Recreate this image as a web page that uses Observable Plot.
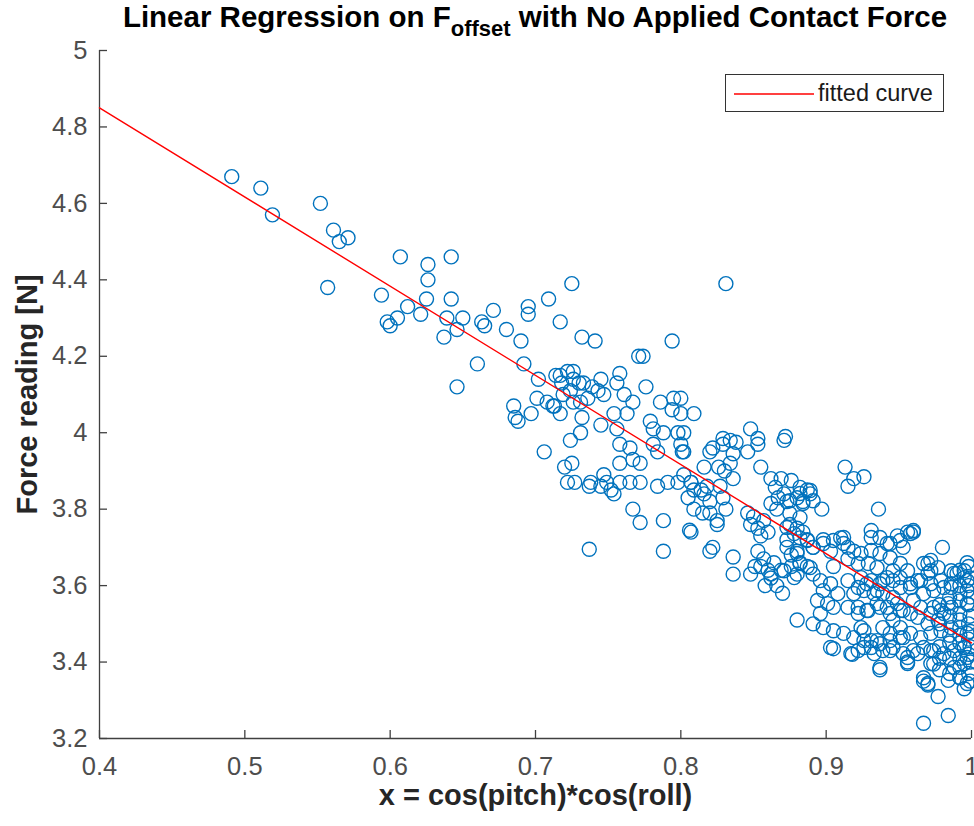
<!DOCTYPE html>
<html><head><meta charset="utf-8">
<script src="https://cdn.jsdelivr.net/npm/d3@7"></script>
<script src="https://cdn.jsdelivr.net/npm/@observablehq/plot@0.6"></script>
<style>
body{margin:0;background:#fff;}
#wrap{position:relative;width:974px;height:826px;overflow:hidden;font-family:"Liberation Sans",Arial,Helvetica,sans-serif;}
#title{position:absolute;top:1px;left:0;width:1070px;text-align:center;font-weight:bold;font-size:29.5px;line-height:32px;color:#000;white-space:nowrap;}
#title sub{font-size:22px;vertical-align:-9px;line-height:0;}
#legend{position:absolute;left:725px;top:74px;width:217px;height:36px;border:1.3px solid #333;background:#fff;}
#legend svg{position:absolute;left:0;top:0;}
#legend span{position:absolute;left:92px;top:4px;font-size:23.5px;line-height:28px;color:#1a1a1a;}
</style></head><body>
<div id="wrap"><div id="chart"></div>
<div id="title">Linear Regression on F<sub>offset</sub> with No Applied Contact Force</div>
<div id="legend"><svg width="92" height="36"><line x1="8" x2="88" y1="19" y2="19" stroke="#FF0000" stroke-width="1.4"/></svg><span>fitted curve</span></div>
</div>
<script>
const xDomain = [0.4, 1];
const yDomain = [3.2, 5];
const xTicks = [0.4, 0.5, 0.6, 0.7, 0.8, 0.9, 1];
const xTickLabels = ["0.4", "0.5", "0.6", "0.7", "0.8", "0.9", "1"];
const yTicks = [3.2, 3.4, 3.6, 3.8, 4, 4.2, 4.4, 4.6, 4.8, 5];
const yTickLabels = ["3.2", "3.4", "3.6", "3.8", "4", "4.2", "4.4", "4.6", "4.8", "5"];
const xLabel = "x = cos(pitch)*cos(roll)";
const yLabel = "Force reading [N]";
const fitX = [0.4, 1];
const fitY = [4.85, 3.45];
const points = [
[0.491,4.67],[0.511,4.64],[0.519,4.57],[0.552,4.60],[0.561,4.53],[0.565,4.50],[0.571,4.51],[0.557,4.38],
[0.594,4.36],[0.598,4.29],[0.600,4.28],[0.607,4.46],[0.605,4.30],[0.612,4.33],[0.621,4.31],[0.625,4.35],
[0.626,4.40],[0.626,4.44],[0.642,4.46],[0.642,4.35],[0.639,4.30],[0.650,4.30],[0.637,4.25],[0.646,4.27],
[0.646,4.12],[0.660,4.18],[0.663,4.29],[0.665,4.28],[0.671,4.32],[0.680,4.27],[0.690,4.24],[0.692,4.18],
[0.695,4.33],[0.695,4.31],[0.709,4.35],[0.725,4.39],[0.717,4.29],[0.732,4.25],[0.741,4.24],[0.685,4.07],
[0.686,4.04],[0.688,4.03],[0.697,4.05],[0.706,3.95],[0.701,4.09],[0.702,4.14],[0.831,4.39],[0.794,4.24],
[0.771,4.20],[0.774,4.20],
[0.714,4.15],[0.718,4.13],[0.722,4.16],[0.726,4.14],[0.730,4.13],[0.745,4.14],[0.758,4.155],[0.708,4.08],
[0.713,4.07],[0.717,4.05],[0.724,4.11],[0.731,4.08],[0.732,4.04],[0.739,4.12],[0.743,4.11],[0.747,4.10],
[0.756,4.13],[0.761,4.10],[0.767,4.08],[0.776,4.12],[0.786,4.08],[0.795,4.09],[0.794,4.06],[0.809,4.05],
[0.754,4.05],[0.763,4.05],[0.745,4.02],[0.731,4.00],[0.724,3.98],[0.756,4.01],[0.758,3.97],[0.765,3.96],
[0.779,4.03],[0.781,4.01],[0.788,4.00],[0.798,4.00],[0.800,3.97],[0.801,3.95],[0.781,3.97],[0.784,3.95],
[0.767,3.93],[0.772,3.92],[0.758,3.92],[0.720,3.91],[0.725,3.92],[0.722,3.87],[0.727,3.87],[0.738,3.87],
[0.747,3.89],[0.749,3.87],[0.752,3.85],[0.758,3.87],[0.765,3.87],[0.772,3.87],[0.784,3.86],[0.791,3.87],
[0.798,3.87],[0.807,3.87],[0.809,3.85],
[0.733,4.13],[0.717,4.15],[0.726,4.16],[0.719,4.10],[0.726,4.08],[0.712,4.07],[0.736,4.09],
[0.737,3.695],[0.767,3.80],[0.772,3.765],[0.788,3.77],[0.788,3.69],[0.806,3.745],[0.754,3.84],[0.745,3.86],[0.737,3.86],
[0.800,4.09],[0.800,4.05],[0.848,4.01],[0.853,3.985],[0.872,3.99],[0.829,3.985],[0.834,3.98],[0.838,3.975],
[0.822,3.96],[0.802,4.00],[0.802,3.95],
[0.820,3.95],[0.829,3.97],[0.836,3.945],[0.846,3.95],[0.853,3.97],[0.871,3.98],
[0.816,3.91],[0.826,3.91],[0.830,3.90],[0.834,3.92],[0.836,3.88],[0.827,3.86],[0.818,3.86],[0.816,3.84],
[0.820,3.82],[0.829,3.83],[0.831,3.80],[0.855,3.91],
[0.862,3.88],[0.869,3.88],[0.876,3.875],[0.882,3.857],[0.887,3.85],[0.865,3.857],[0.867,3.83],[0.871,3.84],
[0.862,3.815],[0.866,3.80],[0.873,3.82],[0.880,3.83],[0.884,3.82],[0.889,3.84],
[0.913,3.91],[0.919,3.88],[0.915,3.86],[0.926,3.885],[0.936,3.80],[0.897,3.80],
[0.807,3.87],[0.814,3.85],[0.805,3.83],[0.809,3.80],[0.802,3.89],[0.815,3.79],
[0.846,3.79],[0.850,3.78],[0.848,3.76],[0.853,3.75],[0.857,3.77],[0.860,3.74],[0.855,3.73],
[0.820,3.79],[0.825,3.77],[0.825,3.76],[0.807,3.74],[0.822,3.70],[0.836,3.675],[0.836,3.63],
[0.875,3.76],[0.880,3.75],[0.884,3.74],[0.882,3.725],[0.887,3.72],[0.873,3.72],
[0.891,3.70],[0.898,3.72],[0.903,3.69],[0.910,3.725],[0.912,3.71],[0.919,3.69],[0.915,3.67],[0.905,3.65],
[0.820,3.69],[0.853,3.69],[0.857,3.67],[0.855,3.65],[0.860,3.64],[0.864,3.66],[0.869,3.64],[0.862,3.63],
[0.851,3.65],[0.848,3.63],[0.876,3.68],[0.880,3.69],[0.882,3.66],[0.887,3.65],[0.891,3.63],[0.880,3.63],[0.876,3.65],
[0.942,3.71],[0.949,3.73],[0.956,3.74],[0.960,3.74],[0.953,3.70],
[0.980,3.700],[0.997,3.660],[0.970,3.658],[0.972,3.639],[0.970,3.632],[0.986,3.639],[0.990,3.632],[0.995,3.621],
[0.951,3.658],[0.956,3.639],[0.946,3.639],[0.942,3.621],[0.951,3.621],[0.963,3.613],[0.958,3.595],
[0.924,3.684],[0.931,3.692],[0.937,3.684],[0.944,3.673],[0.922,3.658],[0.929,3.658],[0.935,3.647],
[0.924,3.621],[0.931,3.613],[0.937,3.605],[0.926,3.587],[0.919,3.579],[0.933,3.579],[0.939,3.579],[0.946,3.569],
[0.922,3.543],[0.929,3.535],[0.935,3.553],[0.942,3.543],[0.949,3.553],[0.953,3.535],[0.960,3.561],[0.967,3.579],
[0.974,3.587],[0.981,3.595],[0.986,3.605],
[0.963,3.517],[0.970,3.501],[0.977,3.509],[0.981,3.527],[0.974,3.543],[0.984,3.553],
[0.946,3.509],[0.951,3.490],[0.939,3.490],[0.944,3.475],[0.953,3.464],
[0.924,3.490],[0.919,3.464],[0.926,3.456],[0.931,3.438],[0.922,3.430],[0.935,3.456],
[0.939,3.430],[0.946,3.438],[0.953,3.422],[0.960,3.430],[0.967,3.438],[0.974,3.430],[0.981,3.422],[0.988,3.430],[0.995,3.438],
[0.937,3.386],[0.956,3.396],[0.972,3.396],[0.988,3.386],[0.995,3.396],
[0.967,3.359],[0.970,3.344],[0.984,3.352],[0.992,3.359],[0.997,3.344],[0.917,3.422],
[0.873,3.752],[0.878,3.736],[0.873,3.700],[0.880,3.684],[0.887,3.718],[0.891,3.700],[0.882,3.658],[0.889,3.647],
[0.878,3.621],[0.871,3.639],[0.898,3.710],[0.905,3.718],[0.912,3.726],[0.915,3.700],
[0.896,3.613],[0.898,3.587],[0.903,3.605],[0.908,3.579],[0.894,3.561],[0.901,3.553],[0.905,3.543],[0.896,3.527],
[0.898,3.490],[0.905,3.482],[0.912,3.475],[0.926,3.482],[0.931,3.456],[0.937,3.448],[0.944,3.456],[0.951,3.464],
[0.958,3.475],[0.965,3.464],[0.972,3.475],[0.979,3.482],[0.986,3.490],
[0.903,3.438],[0.926,3.438],[0.933,3.422],[0.944,3.430],[0.956,3.412],[0.963,3.422],[0.972,3.430],
[0.875,3.822],[0.882,3.841],[0.889,3.849],[0.891,3.822],[0.884,3.815],[0.875,3.789],[0.882,3.778],
[0.937,3.726],[0.944,3.710],[0.951,3.718],[0.958,3.736],[0.960,3.744],[0.931,3.744],[0.931,3.726],
[0.967,3.658],[0.972,3.666],[0.977,3.647],[0.988,3.632],[0.995,3.639],[0.997,3.613],
[0.915,3.613],[0.922,3.595],[0.928,3.605],[0.935,3.587],[0.939,3.613],[0.946,3.613],[0.951,3.595],[0.958,3.605],
[0.965,3.613],[0.972,3.605],[0.979,3.613],[0.986,3.595],
[0.915,3.543],[0.922,3.527],[0.928,3.535],[0.937,3.543],[0.944,3.527],[0.951,3.535],[0.958,3.527],[0.965,3.543],
[0.972,3.527],[0.979,3.535],[0.986,3.543],[0.992,3.527],[0.997,3.553],
[0.992,3.579],[0.997,3.587],[0.992,3.490],[0.997,3.475],[0.995,3.438],[0.997,3.412],[0.992,3.386],
[0.998,3.65],[0.999,3.62],[0.998,3.60],[0.999,3.57],[0.998,3.55],[0.999,3.52],[0.998,3.50],[0.999,3.48],
[0.998,3.46],[0.999,3.44],[0.998,3.42],[0.999,3.40],[0.998,3.37],[0.999,3.35],
[0.992,3.64],[0.992,3.60],[0.992,3.56],[0.992,3.51],[0.992,3.47],[0.992,3.45],[0.992,3.41],
[0.985,3.57],[0.985,3.52],[0.985,3.47],[0.985,3.45],[0.985,3.41],[0.985,3.37],
[0.978,3.55],[0.978,3.50],[0.978,3.44],[0.978,3.41],[0.978,3.38],
[0.967,3.24],[0.984,3.26],[0.977,3.31],[0.970,3.34],[0.967,3.35],[0.995,3.33],[0.992,3.36],[0.956,3.40],
[0.974,3.395],[0.937,3.38],[0.905,3.435],[0.918,3.42],[0.880,3.51],[0.891,3.50],
[0.866,3.60],[0.870,3.58],[0.862,3.62],[0.858,3.60]
];
const fitLine = fitX.map((x, i) => ({x, y: fitY[i]}));
const axisColor = "#404040";
const chart = Plot.plot({
  width: 974, height: 826,
  marginLeft: 99, marginRight: 3, marginTop: 50, marginBottom: 88,
  x: {domain: xDomain},
  y: {domain: yDomain},
  style: {fontFamily: "Liberation Sans, Arial, sans-serif", background: "#fff"},
  marks: [
    Plot.ruleX([xDomain[0]], {stroke: axisColor, strokeWidth: 1.3}),
    Plot.ruleY([yDomain[0]], {stroke: axisColor, strokeWidth: 1.3}),
    Plot.axisX(xTicks, {tickSize: -8, tickFormat: () => "", stroke: axisColor, strokeWidth: 1.3, label: null}),
    Plot.axisY(yTicks, {tickSize: -8, tickFormat: () => "", stroke: axisColor, strokeWidth: 1.3, label: null}),
    Plot.axisX(xTicks, {tickSize: 0, tickPadding: 18, tickFormat: d => xTickLabels[xTicks.indexOf(d)], fontSize: 25.5, fill: "#4d4d4d", label: null}),
    Plot.axisY(yTicks, {tickSize: 0, tickPadding: 12, tickFormat: d => yTickLabels[yTicks.indexOf(d)], fontSize: 25.5, fill: "#4d4d4d", label: null}),
    Plot.dot(points, {x: d => d[0], y: d => d[1], r: 7, stroke: "#0072BD", strokeWidth: 1.4, fill: "none"}),
    Plot.line(fitLine, {x: "x", y: "y", stroke: "#FF0000", strokeWidth: 1.4}),
    Plot.text([xLabel], {frameAnchor: "bottom", dy: 66, fontSize: 29, fontWeight: "bold", fill: "#262626"}),
    Plot.text([yLabel], {frameAnchor: "left", dx: -72, rotate: -90, textAnchor: "middle", fontSize: 29, fontWeight: "bold", fill: "#262626"})
  ]
});
document.getElementById("chart").appendChild(chart);
</script>
</body></html>
